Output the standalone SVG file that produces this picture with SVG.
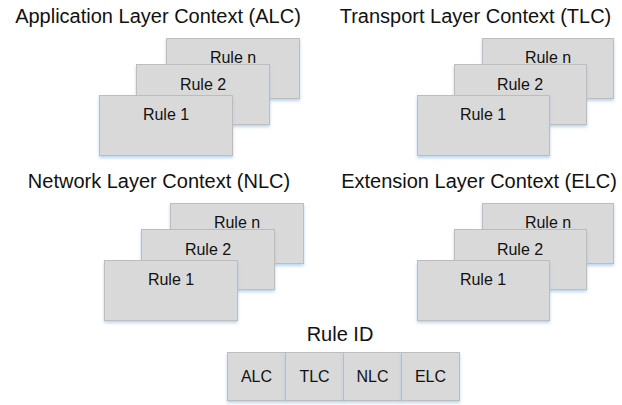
<svg xmlns="http://www.w3.org/2000/svg" width="622" height="405" viewBox="0 0 622 405">
<defs>
<filter id="sh" x="-10%" y="-10%" width="125%" height="130%">
<feDropShadow dx="0" dy="2" stdDeviation="1.5" flood-color="#9cc3ea" flood-opacity="0.7"/>
</filter>
<style>
.r{fill:#d9d9d9;stroke:#bdbdbd;stroke-width:1;filter:url(#sh)}
.t{font-family:"Liberation Sans",Arial,sans-serif;font-size:16px;fill:#111111;text-anchor:middle}
.h{font-family:"Liberation Sans",Arial,sans-serif;font-size:20px;fill:#111111;text-anchor:middle}
</style>
</defs>
<rect width="622" height="405" fill="#ffffff"/>

<g id="alc">
<text class="h" x="158" y="23">Application Layer Context (ALC)</text>
<g id="alc-rn"><rect class="r" x="166.5" y="38.5" width="133" height="60"/><text class="t" x="233" y="63">Rule n</text></g>
<g id="alc-r2"><rect class="r" x="136.5" y="64.5" width="133" height="60"/><text class="t" x="203" y="90">Rule 2</text></g>
<g id="alc-r1"><rect class="r" x="99.5" y="95.5" width="133" height="60"/><text class="t" x="166" y="120">Rule 1</text></g>
</g>

<g id="tlc">
<text class="h" x="475.5" y="23">Transport Layer Context (TLC)</text>
<g id="tlc-rn"><rect class="r" x="482.5" y="38.5" width="131" height="60"/><text class="t" x="548" y="63">Rule n</text></g>
<g id="tlc-r2"><rect class="r" x="454.5" y="64.5" width="132" height="60"/><text class="t" x="520" y="90">Rule 2</text></g>
<g id="tlc-r1"><rect class="r" x="417.5" y="95.5" width="132" height="60"/><text class="t" x="483" y="120">Rule 1</text></g>
</g>

<g id="nlc">
<text class="h" x="159" y="188">Network Layer Context (NLC)</text>
<g id="nlc-rn"><rect class="r" x="170.5" y="203.5" width="133" height="60"/><text class="t" x="237" y="228">Rule n</text></g>
<g id="nlc-r2"><rect class="r" x="141.5" y="229.5" width="133" height="60"/><text class="t" x="208" y="255">Rule 2</text></g>
<g id="nlc-r1"><rect class="r" x="104.5" y="260.5" width="133" height="60"/><text class="t" x="171" y="285">Rule 1</text></g>
</g>

<g id="elc">
<text class="h" x="479" y="188">Extension Layer Context (ELC)</text>
<g id="elc-rn"><rect class="r" x="482.5" y="203.5" width="131" height="60"/><text class="t" x="548" y="228">Rule n</text></g>
<g id="elc-r2"><rect class="r" x="454.5" y="229.5" width="132" height="60"/><text class="t" x="520" y="255">Rule 2</text></g>
<g id="elc-r1"><rect class="r" x="417.5" y="260.5" width="132" height="60"/><text class="t" x="483" y="285">Rule 1</text></g>
</g>

<g id="ruleid">
<text class="h" x="340" y="341">Rule ID</text>
<g id="id-alc"><rect class="r" x="227.5" y="352.5" width="58" height="48"/><text class="t" x="256.5" y="382">ALC</text></g>
<g id="id-tlc"><rect class="r" x="285.5" y="352.5" width="58" height="48"/><text class="t" x="314.5" y="382">TLC</text></g>
<g id="id-nlc"><rect class="r" x="343.5" y="352.5" width="58" height="48"/><text class="t" x="372.5" y="382">NLC</text></g>
<g id="id-elc"><rect class="r" x="401.5" y="352.5" width="58" height="48"/><text class="t" x="430.5" y="382">ELC</text></g>
</g>
<g id="connectors"/>
</svg>
